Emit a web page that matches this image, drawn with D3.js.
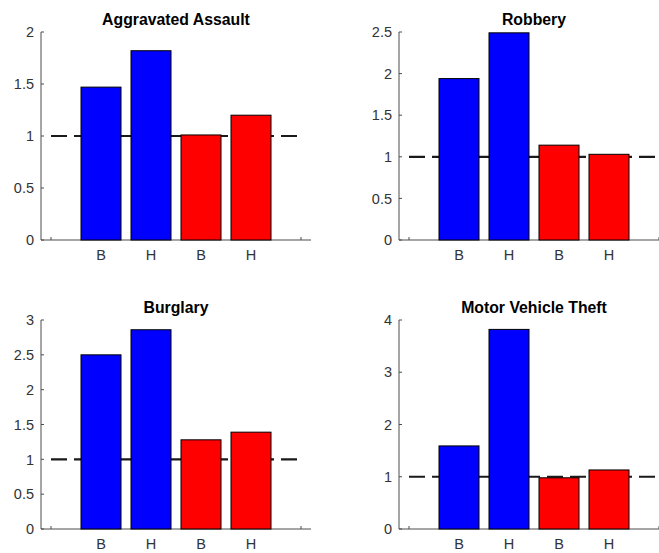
<!DOCTYPE html>
<html>
<head>
<meta charset="utf-8">
<script src="https://cdn.jsdelivr.net/npm/d3@7"></script>
<style>
  html, body { margin: 0; padding: 0; background: #fff; }
  svg { display: block; font-family: "Liberation Sans", Arial, Helvetica, sans-serif; }
</style>
</head>
<body>
<svg id="chart" width="659" height="553"></svg>
<script>
// Relative risk by offence type, for two groups (blue, red) and two subgroups (B, H)
const categories = ["B", "H", "B", "H"];
const barColors = ["#0000ff", "#0000ff", "#ff0000", "#ff0000"];
const titles = ["Aggravated Assault", "Robbery", "Burglary", "Motor Vehicle Theft"];

const aggravatedAssault = [1.47, 1.82, 1.01, 1.20];
const robbery = [1.94, 2.49, 1.14, 1.03];
const burglary = [2.50, 2.86, 1.28, 1.39];
const motorVehicleTheft = [1.59, 3.82, 0.98, 1.13];

const yMaxes = [2, 2.5, 3, 4];
const yTicks = [
  [0, 0.5, 1, 1.5, 2],
  [0, 0.5, 1, 1.5, 2, 2.5],
  [0, 0.5, 1, 1.5, 2, 2.5, 3],
  [0, 1, 2, 3, 4]
];
const referenceLevel = 1;

const seriesList = [aggravatedAssault, robbery, burglary, motorVehicleTheft];

// panel frames: plot area in pixels
const frames = [
  { left: 41, right: 311, top: 32, bottom: 240 },
  { left: 399, right: 669, top: 32, bottom: 240 },
  { left: 41, right: 311, top: 320, bottom: 529 },
  { left: 399, right: 669, top: 320, bottom: 529 }
];

const svg = d3.select("#chart");
const axisColor = "#4d4d4d";
const textColor = "#333333";

seriesList.forEach((values, p) => {
  const f = frames[p];
  const g = svg.append("g");

  const x = d3.scaleLinear().domain([-0.2, 5.2]).range([f.left, f.right]);
  const y = d3.scaleLinear().domain([0, yMaxes[p]]).range([f.bottom, f.top]);
  const barW = x(0.8) - x(0);

  // axes (left and bottom only, ticks pointing inward)
  g.append("line")
    .attr("x1", f.left).attr("x2", f.left)
    .attr("y1", y(yMaxes[p])).attr("y2", y(0))
    .attr("stroke", axisColor).attr("stroke-width", 1);
  g.append("line")
    .attr("x1", f.left).attr("x2", f.right)
    .attr("y1", y(0)).attr("y2", y(0))
    .attr("stroke", axisColor).attr("stroke-width", 1);

  g.selectAll(".ytick").data(yTicks[p]).enter().append("line")
    .attr("x1", f.left).attr("x2", f.left + 3)
    .attr("y1", d => y(d)).attr("y2", d => y(d))
    .attr("stroke", axisColor).attr("stroke-width", 1);

  g.selectAll(".ylab").data(yTicks[p]).enter().append("text")
    .attr("x", f.left - 7)
    .attr("y", d => y(d))
    .attr("dy", "0.36em")
    .attr("text-anchor", "end")
    .attr("font-size", 14.5)
    .attr("fill", textColor)
    .text(d => d3.format("~g")(d));

  g.selectAll(".xtick").data([0, 5]).enter().append("line")
    .attr("x1", d => x(d)).attr("x2", d => x(d))
    .attr("y1", y(0)).attr("y2", y(0) - 3)
    .attr("stroke", axisColor).attr("stroke-width", 1);

  // dashed reference line at 1 (drawn under the bars)
  g.append("line")
    .attr("x1", x(0)).attr("x2", x(5))
    .attr("y1", y(referenceLevel)).attr("y2", y(referenceLevel))
    .attr("stroke", "#1a1a1a")
    .attr("stroke-width", 2.2)
    .attr("stroke-dasharray", "16,7");

  // bars
  g.selectAll(".bar").data(values).enter().append("rect")
    .attr("x", (d, i) => x(i + 1) - barW / 2)
    .attr("y", d => y(d))
    .attr("width", barW)
    .attr("height", d => y(0) - y(d))
    .attr("fill", (d, i) => barColors[i])
    .attr("stroke", "#000")
    .attr("stroke-width", 1);

  // category labels
  g.selectAll(".xlab").data(categories).enter().append("text")
    .attr("x", (d, i) => x(i + 1))
    .attr("y", y(0) + 20)
    .attr("text-anchor", "middle")
    .attr("font-size", 14.5)
    .attr("fill", textColor)
    .text(d => d);

  // title
  g.append("text")
    .attr("x", (f.left + f.right) / 2)
    .attr("y", f.top - 7)
    .attr("text-anchor", "middle")
    .attr("font-size", 15.8)
    .attr("font-weight", "bold")
    .attr("fill", "#000")
    .text(titles[p]);
});
</script>
</body>
</html>
